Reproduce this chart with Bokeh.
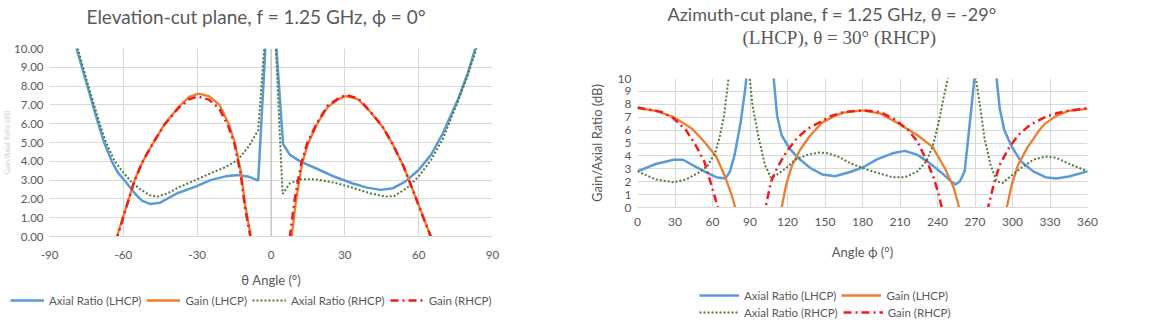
from bokeh.plotting import figure
from bokeh.models import (Legend, LegendItem, Range1d, FixedTicker, CustomJSTickFormatter,
                          Span, Title)
from bokeh.layouts import row, column
from bokeh.embed import file_html
from bokeh.resources import INLINE

FONT = "Lato"
GREY = "#595959"
GRID = "#d9d9d9"
BLUE = "#5b9bd5"
ORANGE = "#ed7d31"
GREEN = "#4e7a3c"
RED = "#f01c1c"

# ---------------- elevation cut (phi = 0), theta in degrees ----------------
elev_ticks_x = [-90, -60, -30, 0, 30, 60, 90]
elev_ticks_y = [0, 1, 2, 3, 4, 5, 6, 7, 8, 9, 10]

elev_ar_lhcp_theta = [-84, -79, -74.6, -70.2, -67.8, -64.7, -62.2, -59, -55.4, -52.3, -49.3, -45,
                      -38.1, -30.7, -24.6, -18.4, -13.5, -9, -5.2, -2, 0, 2, 4.9, 7.7, 12, 18.2,
                      25.6, 33, 39, 44.6, 49.6, 54.5, 60, 65, 69.9, 72.9, 76, 80, 83, 87]
elev_ar_lhcp = [14, 10.0, 8.0, 6.0, 5.0, 4.0, 3.4, 2.9, 2.3, 1.9, 1.73, 1.8,
                2.3, 2.65, 3.0, 3.2, 3.27, 3.18, 2.97, 10.7, 40, 10.4, 4.92, 4.34, 3.98, 3.63,
                3.19, 2.83, 2.6, 2.48, 2.57, 2.92, 3.54, 4.34, 5.5, 6.4, 7.3, 8.7, 10.0, 12.5]

elev_ar_rhcp_theta = [-84, -78.5, -74.2, -69.6, -67, -63.5, -60, -56.7, -53, -49.3, -46.2, -41.9,
                      -36.9, -30.7, -24.6, -18.4, -13.5, -9, -5.2, -2.5, 0, 1.8, 4.7, 7.7, 12,
                      18.2, 25.6, 33, 40.3, 46.5, 50.2, 55.1, 60, 65, 69.9, 72.9, 76, 80, 83.5, 87]
elev_ar_rhcp = [14, 10.0, 8.0, 6.0, 5.0, 4.0, 3.4, 2.9, 2.5, 2.2, 2.12, 2.3,
                2.65, 3.0, 3.36, 3.7, 4.07, 4.8, 5.66, 10.5, 40, 10.5, 2.27, 2.83, 3.04,
                3.04, 2.87, 2.6, 2.3, 2.12, 2.16, 2.57, 3.19, 4.07, 5.2, 6.2, 7.2, 8.6, 10.0, 12.0]

elev_gain_lhcp_theta = [-70, -62.6, -57.9, -55.4, -52.3, -48, -43.1, -37.5, -33.2, -29.5, -25.2,
                        -20.9, -17.2, -14.7, -12.2, -10.4, -8.2, -6, 0, 6, 8.4, 10.2, 12.7, 15.1,
                        18.8, 23.1, 28, 30.5, 35.4, 40.3, 45.3, 49.6, 53.9, 57.6, 61.3, 64.9, 70]
elev_gain_lhcp = [-4, 0, 1.95, 3.0, 3.95, 4.95, 6.0, 6.9, 7.43, 7.6, 7.47,
                  7.0, 6.0, 5.0, 3.4, 1.6, 0, -1.5, -6, -1.5, 0, 1.95, 3.9, 4.96,
                  6.0, 6.9, 7.35, 7.47, 7.3, 6.64, 5.84, 4.87, 3.72, 2.48, 1.24, 0, -3]

elev_gain_rhcp_theta = [-70, -62.4, -58, -55.5, -52.3, -48, -43.3, -37.5, -33.2, -29.8, -25.2,
                        -21, -17.3, -14.8, -12.3, -10.5, -8.4, -6, 0, 6, 7.7, 9.6, 12.3, 14.8,
                        18.5, 23, 28, 30.5, 35.4, 40.3, 45.3, 49.6, 53.9, 57.6, 61.3, 64.9, 70]
elev_gain_rhcp = [-4, 0, 1.9, 2.95, 3.95, 4.95, 5.95, 6.85, 7.3, 7.45, 7.28,
                  6.8, 5.85, 4.9, 3.3, 1.5, 0, -1.5, -6, -1.5, 0, 1.95, 3.9, 5.0,
                  6.0, 6.95, 7.4, 7.52, 7.35, 6.65, 5.85, 4.87, 3.72, 2.48, 1.2, 0, -3]

# ---------------- azimuth cut, phi in degrees ----------------
azim_ticks_x = list(range(0, 361, 30))
azim_ticks_y = [0, 1, 2, 3, 4, 5, 6, 7, 8, 9, 10]

azim_ar_lhcp_phi = [0, 14.6, 29, 36.4, 46, 55.8, 63, 70.4, 74, 77.7, 82.5, 86.2, 88, 98, 108,
                    111.7, 115.3, 121.4, 128.6, 138.3, 148, 158, 170, 180, 192, 204, 214, 224,
                    233.7, 243.4, 250.7, 254.4, 258, 261.7, 264, 267.3, 269.5, 271, 279, 286,
                    287.3, 289.8, 293.4, 299.5, 306.8, 316.6, 326.3, 335, 345, 360]
azim_ar_lhcp = [2.8, 3.37, 3.7, 3.7, 3.19, 2.68, 2.35, 2.24, 2.8, 4.08, 6.6, 9.2, 11, 30, 11,
                7.1, 5.6, 4.6, 3.83, 3.06, 2.55, 2.42, 2.75, 3.1, 3.75, 4.2, 4.39, 4.08,
                3.44, 2.68, 2.04, 1.79, 2.04, 2.8, 4.85, 7.9, 10.0, 12, 30, 12,
                10.0, 7.65, 6.0, 4.7, 3.57, 2.8, 2.35, 2.25, 2.4, 2.8]

azim_ar_rhcp_phi = [0, 14.6, 29, 38.8, 48.5, 55.8, 62, 65.5, 69.2, 72.8, 76, 82, 88, 89.8, 92, 97,
                    102, 106.8, 111.7, 119, 126, 136, 145.6, 152, 160.5, 170, 180, 192, 204, 214,
                    224, 231, 236, 241, 244.6, 248.3, 252, 260, 268, 270.7, 274, 277.6, 282.4,
                    287.3, 292, 297, 306.8, 316.6, 326, 335, 345, 360]
azim_ar_rhcp = [2.8, 2.17, 1.96, 2.17, 2.68, 3.19, 4.2, 5.36, 7.1, 9.95, 14, 30, 13, 10.0, 7.9, 5.36,
                3.3, 2.3, 2.55, 3.06, 3.7, 4.08, 4.26, 4.2, 3.95, 3.44, 3.06, 2.68, 2.35, 2.35,
                2.8, 3.57, 4.7, 6.6, 8.4, 10.0, 13, 30, 13, 10.0, 7.9, 5.36, 3.3,
                2.04, 1.9, 2.3, 3.06, 3.7, 3.95, 3.85, 3.4, 2.8]

azim_gain_lhcp_phi = [0, 14.6, 29, 43.7, 53.4, 63, 70.4, 75.2, 78.2, 80, 96, 113, 115.3, 119, 123.8,
                      130, 138.3, 148, 157.8, 165, 180, 194.6, 209, 224, 236, 245.8, 253, 257.3,
                      259, 276, 294, 295.4, 299.5, 304.4, 311.7, 321.5, 326, 335, 345, 360]
azim_gain_lhcp = [7.7, 7.5, 7.0, 6.1, 5.1, 3.95, 2.3, 1.0, 0, -1, -8, -1, 0, 1.8, 3.3,
                  4.46, 5.6, 6.6, 7.1, 7.35, 7.53, 7.27, 6.5, 5.6, 4.7, 3.06, 1.53, 0,
                  -1, -8, -1, 0, 1.8, 3.3, 4.6, 6.0, 6.5, 7.1, 7.5, 7.65]

azim_gain_rhcp_phi = [0, 19.4, 29, 38.8, 47.3, 53.4, 58.3, 62, 64.3, 66, 83, 100.5, 102.4, 106.8,
                      111.7, 119, 127.4, 136, 145.6, 155, 165, 180, 194.6, 206.8, 216.6, 224, 231,
                      237, 241, 243.4, 245, 262, 279, 280.5, 285, 289.8, 297, 304.4, 314, 326,
                      335, 345, 360]
azim_gain_rhcp = [7.75, 7.4, 6.9, 6.0, 4.7, 3.57, 2.0, 0.77, 0, -1, -8, -1, 0, 2.0,
                  3.06, 4.3, 5.36, 6.1, 6.6, 7.1, 7.4, 7.53, 7.4, 6.76, 6.0, 5.1, 3.7,
                  2.3, 1.0, 0, -1, -8, -1, 0, 1.8, 3.3, 4.6, 5.6, 6.4, 7.0,
                  7.3, 7.5, 7.7]

legend_labels = ["Axial Ratio (LHCP)", "Gain (LHCP)", "Axial Ratio (RHCP)", "Gain (RHCP)"]

STYLES = [dict(line_color=BLUE, line_width=2.5),
          dict(line_color=ORANGE, line_width=2.3),
          dict(line_color=GREEN, line_width=2, line_dash="2 2"),
          dict(line_color=RED, line_width=2.5, line_dash="8 4 2 4")]

elev_series = [(elev_ar_lhcp_theta, elev_ar_lhcp), (elev_gain_lhcp_theta, elev_gain_lhcp),
               (elev_ar_rhcp_theta, elev_ar_rhcp), (elev_gain_rhcp_theta, elev_gain_rhcp)]
azim_series = [(azim_ar_lhcp_phi, azim_ar_lhcp), (azim_gain_lhcp_phi, azim_gain_lhcp),
               (azim_ar_rhcp_phi, azim_ar_rhcp), (azim_gain_rhcp_phi, azim_gain_rhcp)]


def make_panel(width, height, borders, x_range, xticks, yticks, tick_size, title, title_size):
    left, right, top, bottom = borders
    p = figure(width=width, height=height, output_backend="svg", toolbar_location=None,
               x_range=x_range, y_range=Range1d(0, 10), title=title, frame_align=False,
               min_border_left=left, min_border_right=right,
               min_border_top=top, min_border_bottom=bottom)
    p.outline_line_color = None
    p.xaxis.ticker = FixedTicker(ticks=xticks)
    p.yaxis.ticker = FixedTicker(ticks=yticks)
    p.grid.grid_line_color = GRID
    p.grid.grid_line_width = 1
    for ax in p.axis:
        ax.major_tick_line_color = None
        ax.minor_tick_line_color = None
        ax.major_label_text_font = FONT
        ax.major_label_text_font_size = tick_size
        ax.major_label_text_color = GREY
        ax.axis_label_text_font = FONT
        ax.axis_label_text_font_style = "normal"
        ax.axis_label_text_color = GREY
    p.yaxis.major_tick_out = 0
    p.yaxis.major_tick_in = 0
    p.xaxis.axis_line_color = GRID
    p.yaxis.axis_line_color = None
    p.xaxis.formatter = CustomJSTickFormatter(code="return tick.toFixed(0)")
    p.title.text_font = FONT
    p.title.text_font_size = title_size
    p.title.text_font_style = "normal"
    p.title.text_color = GREY
    p.title.align = "left"
    p.title.standoff = 0
    return p


def spacer(p, gap):
    # blank heading row that keeps the titles clear of the plot area
    p.add_layout(Title(text=" ", text_font_size="1px", standoff=gap), "above")


def legend_strip(width, height, series, x_range, rows, glyph_w, spacing):
    """A bare strip under a panel that carries its legend rows."""
    q = figure(width=width, height=height, output_backend="svg", toolbar_location=None,
               x_range=x_range, y_range=Range1d(1000, 1001), frame_align=False,
               x_axis_type=None, y_axis_type=None, min_border=0)
    q.outline_line_color = None
    q.grid.visible = False
    keys = [q.line(x, y, **st) for (x, y), st in zip(series, STYLES)]
    for idx, (x, y) in rows:
        q.add_layout(Legend(items=[LegendItem(label=legend_labels[i], renderers=[keys[i]]) for i in idx],
                            location=(x, y), orientation="horizontal",
                            glyph_width=glyph_w, glyph_height=14, label_height=14,
                            label_standoff=5, spacing=spacing, padding=0, margin=0,
                            border_line_color=None, background_fill_alpha=0,
                            label_text_font=FONT, label_text_font_size="11.5px",
                            label_text_color=GREY))
    return q


# ---- elevation panel ----
p1 = make_panel(575, 290, (48, 83, 48, 53), Range1d(-90, 90), elev_ticks_x, elev_ticks_y, "11.5px",
                "Elevation-cut plane, f = 1.25 GHz, \u03d5 = 0\u00b0", "19px")
p1.title.offset = 37
spacer(p1, 18)
p1.yaxis.formatter = CustomJSTickFormatter(code="return tick.toFixed(2)")
p1.xaxis.major_label_standoff = 8
p1.yaxis.major_label_standoff = 6
p1.xaxis.axis_label = "\u03b8 Angle (\u00b0)"
p1.xaxis.axis_label_text_font_size = "13px"
p1.xaxis.axis_label_standoff = 10
p1.yaxis.axis_label = "Gain/Axial Ratio (dB)"
p1.yaxis.axis_label_text_font_size = "7px"
p1.yaxis.axis_label_text_color = "#cfcfcf"
p1.yaxis.axis_label_standoff = 0
p1.add_layout(Span(location=0, dimension="height", line_color="#bfbfbf", line_width=1))
lines_1 = [p1.line(x, y, **st) for (x, y), st in zip(elev_series, STYLES)]
leg1 = legend_strip(575, 39, elev_series, Range1d(-90, 90), [([0, 1, 2, 3], (10, 22))], 34, 5)

# ---- azimuth panel ----
p2 = make_panel(574, 280, (62, 62, 77, 73), Range1d(0, 360), azim_ticks_x, azim_ticks_y, "12px",
                "Azimuth-cut plane, f = 1.25 GHz, \u03b8 = -29\u00b0", "18px")
p2.title.offset = 30
spacer(p2, 28)
p2.add_layout(Title(text="(LHCP), \u03b8 = 30\u00b0 (RHCP)", align="left", offset=105, standoff=0,
                    text_font="Liberation Serif", text_font_size="19px",
                    text_font_style="normal", text_color=GREY), "above")
p2.xaxis.major_label_standoff = 4
p2.yaxis.major_label_standoff = 6
p2.xaxis.axis_label = "Angle \u03d5 (\u00b0)"
p2.xaxis.axis_label_text_font_size = "13px"
p2.xaxis.axis_label_standoff = 15
p2.yaxis.axis_label = "Gain/Axial Ratio (dB)"
p2.yaxis.axis_label_text_font_size = "13px"
p2.yaxis.axis_label_standoff = 10
lines_2 = [p2.line(x, y, **st) for (x, y), st in zip(azim_series, STYLES)]
leg2 = legend_strip(574, 49, azim_series, Range1d(0, 360),
                    [([0, 1], (124, 27)), ([2, 3], (124, 10))], 40, 5)

layout = row(column(p1, leg1), column(p2, leg2))
open("out.html", "w").write(file_html(layout, INLINE))
